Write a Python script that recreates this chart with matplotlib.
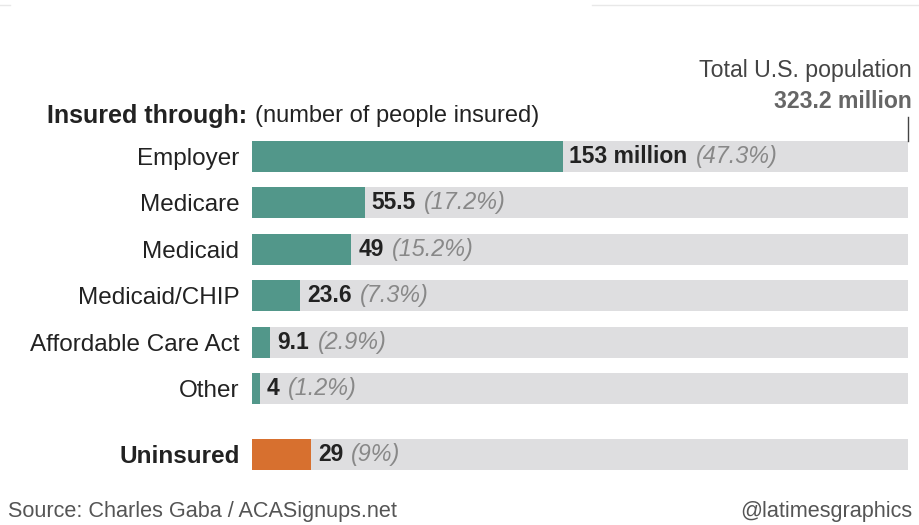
import matplotlib
matplotlib.use("Agg")
import matplotlib.pyplot as plt

plt.rcParams['font.family'] = ['Liberation Sans', 'DejaVu Sans']

categories = ["Employer", "Medicare", "Medicaid", "Medicaid/CHIP",
              "Affordable Care Act", "Other", "Uninsured"]
values = [153, 55.5, 49, 23.6, 9.1, 4, 29]
value_labels = ["153 million", "55.5", "49", "23.6", "9.1", "4", "29"]
percents = ["47.3%", "17.2%", "15.2%", "7.3%", "2.9%", "1.2%", "9%"]
total = 323.2

teal = "#52978a"
orange = "#d7702f"
track = "#dedee0"
dark = "#222222"
grey = "#888888"

ypos = [0, 1, 2, 3, 4, 5, 6.42]
colors = [teal] * 6 + [orange]

fig = plt.figure(figsize=(9.2, 5.25), dpi=100)
ax = fig.add_axes([252 / 920, 55 / 525, 656 / 920, 329 / 525])

ax.barh(ypos, [total] * len(ypos), height=0.67, color=track, zorder=1)
ax.barh(ypos, values, height=0.67, color=colors, zorder=2)

ax.set_xlim(0, total)
ax.set_ylim(6.42 + 0.335, -0.335)
ax.set_yticks(ypos)
ax.set_yticklabels(categories, fontsize=17.5, color=dark)
ax.get_yticklabels()[-1].set_fontweight("bold")
ax.tick_params(axis="y", length=0, pad=9)
ax.set_xticks([])
for s in ax.spines.values():
    s.set_visible(False)

for y, v, lab, pct in zip(ypos, values, value_labels, percents):
    t = ax.annotate(lab, xy=(v, y), xytext=(5, 0), textcoords="offset points",
                    ha="left", va="center", fontsize=16.5, fontweight="bold",
                    color=dark, zorder=3)
    ax.annotate("(" + pct + ")", xy=(1, 0.5), xycoords=t, xytext=(6, 0),
                textcoords="offset points", ha="left", va="center",
                fontsize=16.8, fontstyle="italic", color=grey, zorder=3)

# header
h = fig.text(47 / 920, 1 - 116 / 525, "Insured through:", ha="left", va="center",
             fontsize=18, fontweight="bold", color=dark)
ax.annotate("(number of people insured)", xy=(1, 0.5), xycoords=h, xytext=(6, 0),
            textcoords="offset points", ha="left", va="center",
            fontsize=17, color=dark, annotation_clip=False)

fig.text(912 / 920, 1 - 70 / 525, "Total U.S. population", ha="right", va="center",
         fontsize=16.7, color="#444444")
fig.text(912 / 920, 1 - 102 / 525, "323.2 million", ha="right", va="center",
         fontsize=16.6, fontweight="bold", color="#666666")
ax.plot([total, total], [-0.335, -0.85], color="#444444", lw=1,
        clip_on=False, zorder=3)

fig.text(8 / 920, 1 - 512 / 525, "Source: Charles Gaba / ACASignups.net",
         ha="left", va="center", fontsize=15.6, color="#555555")
fig.text(912 / 920, 1 - 512 / 525, "@latimesgraphics", ha="right", va="center",
         fontsize=15.6, color="#555555")

# faint rules along the top edge
fig.add_artist(plt.Line2D([0, 10 / 920], [1 - 5 / 525] * 2, color="#e8e8e8", lw=1))
fig.add_artist(plt.Line2D([592 / 920, 1], [1 - 5 / 525] * 2, color="#e8e8e8", lw=1))

fig.savefig("out.png", dpi=100)
